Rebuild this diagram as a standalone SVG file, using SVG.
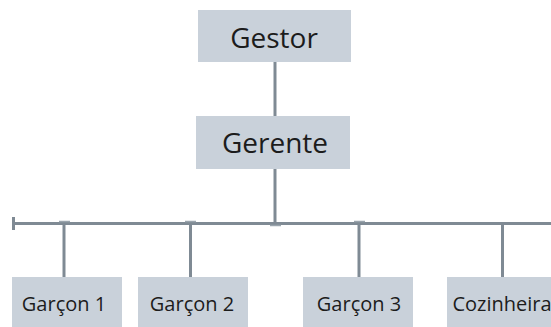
<svg xmlns="http://www.w3.org/2000/svg" width="551" height="327" viewBox="0 0 551 327">
<style>
.box{fill:#c9d1da}
.lbl{font-family:"Open Sans","Noto Sans",sans-serif;fill:#1c1c1c;text-anchor:middle}
.big{font-size:28px}
.sm{font-size:20px}
.ln{stroke:#7f8a94;stroke-width:3;fill:none}
.tk{stroke:#9aa4ad;stroke-width:1.5;fill:none}
</style>
<rect width="551" height="327" fill="#ffffff"/>
<g id="connectors">
<line class="ln" x1="275" y1="62" x2="275" y2="116"/>
<line class="ln" x1="275" y1="169" x2="275" y2="224"/>
<line class="ln" x1="13" y1="223.5" x2="551" y2="223.5"/>
<line class="ln" x1="13.5" y1="217" x2="13.5" y2="230"/>
<line class="ln" x1="64" y1="223" x2="64" y2="277"/>
<line class="ln" x1="190.5" y1="223" x2="190.5" y2="277"/>
<line class="ln" x1="359" y1="223" x2="359" y2="277"/>
<line class="ln" x1="502.5" y1="223" x2="502.5" y2="277"/>
<line class="tk" x1="59" y1="221.5" x2="70" y2="221.5"/>
<line class="tk" x1="185" y1="221.5" x2="196" y2="221.5"/>
<line class="tk" x1="354" y1="221.5" x2="365" y2="221.5"/>
<line class="tk" x1="270" y1="225.5" x2="281" y2="225.5"/>
</g>
<g id="gestor">
<rect class="box" x="198" y="10" width="153" height="52"/>
<text class="lbl big" x="274" y="48">Gestor</text>
</g>
<g id="gerente">
<rect class="box" x="196" y="116" width="154" height="53"/>
<text class="lbl big" x="275" y="153">Gerente</text>
</g>
<g id="garcon1">
<rect class="box" x="12" y="277" width="110" height="50"/>
<text class="lbl sm" x="64" y="311">Garçon 1</text>
</g>
<g id="garcon2">
<rect class="box" x="138" y="277" width="110" height="50"/>
<text class="lbl sm" x="192" y="311">Garçon 2</text>
</g>
<g id="garcon3">
<rect class="box" x="303" y="277" width="110" height="50"/>
<text class="lbl sm" x="359" y="311">Garçon 3</text>
</g>
<g id="cozinheira">
<rect class="box" x="447" y="277" width="112" height="50"/>
<text class="lbl sm" x="502" y="311">Cozinheira</text>
</g>
</svg>
